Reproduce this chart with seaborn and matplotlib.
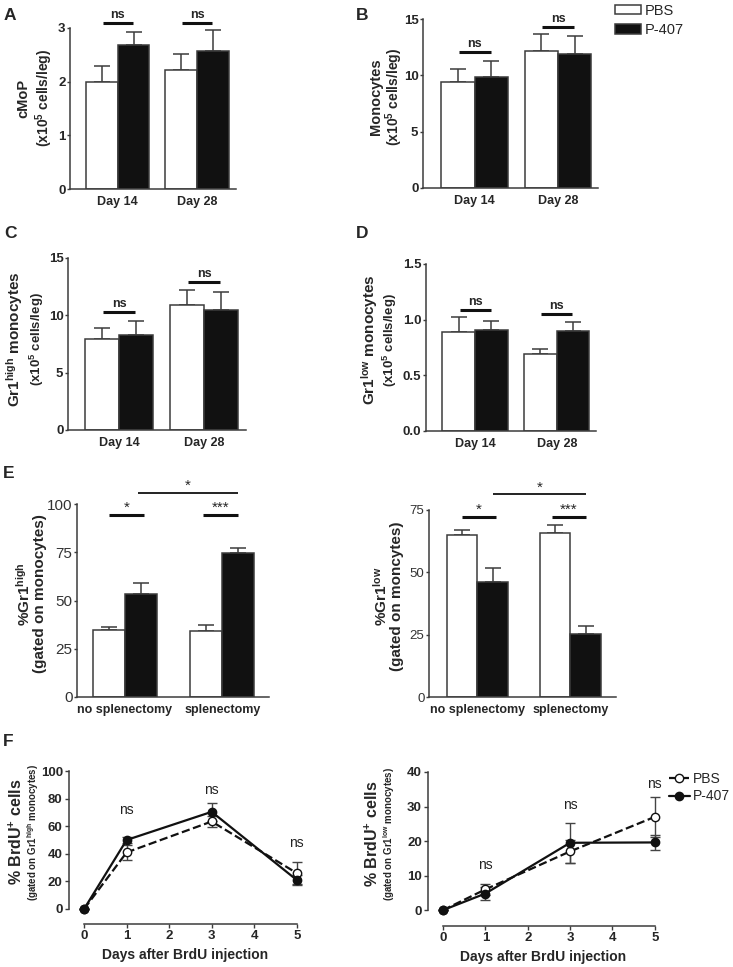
import numpy as np
import pandas as pd
import matplotlib
matplotlib.use("Agg")
import matplotlib.pyplot as plt
import seaborn as sns
from matplotlib.patches import Patch
from matplotlib.lines import Line2D

# ---- data ----
treatments = ["PBS", "P-407"]
days = ["Day 14", "Day 28"]
surgery = ["no splenectomy", "splenectomy"]

cmop_pbs, cmop_pbs_sem = [2.0, 2.22], [0.29, 0.29]
cmop_p407, cmop_p407_sem = [2.68, 2.58], [0.24, 0.38]

mono_pbs, mono_pbs_sem = [9.4, 12.2], [1.2, 1.45]
mono_p407, mono_p407_sem = [9.85, 11.85], [1.4, 1.65]

hi_pbs, hi_pbs_sem = [7.9, 10.9], [1.0, 1.35]
hi_p407, hi_p407_sem = [8.28, 10.45], [1.2, 1.55]

lo_pbs, lo_pbs_sem = [0.89, 0.69], [0.13, 0.045]
lo_p407, lo_p407_sem = [0.905, 0.895], [0.085, 0.08]

pct_hi_pbs, pct_hi_pbs_sem = [34.6, 34.0], [1.6, 3.3]
pct_hi_p407, pct_hi_p407_sem = [53.6, 74.4], [5.7, 2.9]

pct_lo_pbs, pct_lo_pbs_sem = [65.1, 65.6], [1.7, 3.4]
pct_lo_p407, pct_lo_p407_sem = [46.2, 25.4], [5.6, 3.1]

brdu_days = [0, 1, 3, 5]
brdu_hi_pbs, brdu_hi_pbs_sem = [0, 41, 63.4, 26], [0, 5.5, 4, 8]
brdu_hi_p407, brdu_hi_p407_sem = [0, 50, 70.4, 21], [0, 2.2, 6.7, 3.8]
brdu_lo_pbs, brdu_lo_pbs_sem = [0, 6.0, 17.0, 27.0], [0, 1.7, 3.3, 5.7]
brdu_lo_p407, brdu_lo_p407_sem = [0, 4.8, 19.5, 19.6], [0, 1.9, 5.8, 2.2]

# ---- style ----
sns.set_theme(style="ticks")
plt.rcParams["font.family"] = ["Liberation Sans", "DejaVu Sans"]
plt.rcParams["mathtext.fontset"] = "custom"
plt.rcParams["mathtext.rm"] = "Liberation Sans:bold"
plt.rcParams["mathtext.it"] = "Liberation Sans:bold"
plt.rcParams["mathtext.bf"] = "Liberation Sans:bold"
plt.rcParams["mathtext.default"] = "rm"

EDGE = "#3c3c3c"
W, H = 733, 967
fig = plt.figure(figsize=(W / 100, H / 100), dpi=100)


def add_ax(l, t, r, b):
    return fig.add_axes([l / W, 1 - b / H, (r - l) / W, (b - t) / H])


def ylab(x, y, text, size):
    fig.text(x / W, 1 - y / H, text, rotation=90, ha="center", va="center",
             fontsize=size, fontweight="bold")


def letter(x, y, s):
    fig.text(x / W, 1 - y / H, s, fontsize=12.5, fontweight="bold",
             ha="left", va="center")


def bar_panel(ax, cats, pbs, pbs_err, p407, p407_err, ylim, yticks, width,
              xlim, tick_size=9.5, tick_bold=True, tick_labels=None):
    df = pd.DataFrame({"group": cats * 2,
                       "treatment": ["PBS"] * 2 + ["P-407"] * 2,
                       "value": pbs + p407})
    sns.barplot(data=df, x="group", y="value", hue="treatment", order=cats,
                hue_order=treatments,
                palette={"PBS": "white", "P-407": "#111111"},
                edgecolor=EDGE, linewidth=1.1, width=width, errorbar=None,
                legend=False, ax=ax, zorder=2)
    for cont, errs in zip(ax.containers, [pbs_err, p407_err]):
        for bar, e in zip(cont, errs):
            xc = bar.get_x() + bar.get_width() / 2
            ax.errorbar(xc, bar.get_height(), yerr=[[0], [e]], fmt="none",
                        ecolor=EDGE, elinewidth=1.1, capsize=6, capthick=1.1,
                        zorder=1)
    sns.despine(ax=ax)
    ax.set_xlim(*xlim)
    ax.set_ylim(*ylim)
    ax.set_yticks(yticks)
    if tick_labels is not None:
        ax.set_yticklabels(tick_labels)
    ax.set_xlabel("")
    ax.set_ylabel("")
    for s in ("left", "bottom"):
        ax.spines[s].set_color(EDGE)
        ax.spines[s].set_linewidth(1.1)
    ax.tick_params(axis="x", length=0, pad=5, labelsize=9)
    ax.tick_params(axis="y", length=2.5, width=1, color=EDGE, pad=0.8,
                   labelsize=tick_size)
    for t in ax.get_xticklabels():
        t.set_fontweight("bold")
    for t in ax.get_yticklabels():
        t.set_fontweight("bold" if tick_bold else "normal")
        if not tick_bold:
            t.set_color("#333333")


def sig(ax, x0, x1, y, text, lw=2.2, size=9, bold=True, off=1.5):
    ax.plot([x0, x1], [y, y], color="#111111", lw=lw, clip_on=False,
            solid_capstyle="butt")
    ax.annotate(text, xy=((x0 + x1) / 2, y), xytext=(0, off),
                textcoords="offset points", ha="center", va="bottom",
                fontsize=size, fontweight="bold" if bold else "normal",
                annotation_clip=False)


# ---- A: cMoP ----
axA = add_ax(70, 28, 236, 189)
bar_panel(axA, days, cmop_pbs, cmop_pbs_sem, cmop_p407, cmop_p407_sem,
          (0, 3), [0, 1, 2, 3], 0.8, (-0.6, 1.49))
sig(axA, -0.19, 0.19, 3.09, "ns")
sig(axA, 0.81, 1.19, 3.09, "ns")
ylab(23, 98, "cMoP", 10.5)
ylab(44, 98, "(x10$^{5}$ cells/leg)", 10)
letter(4, 16, "A")

# ---- B: Monocytes ----
axB = add_ax(423, 19, 598, 188)
bar_panel(axB, days, mono_pbs, mono_pbs_sem, mono_p407, mono_p407_sem,
          (0, 15), [0, 5, 10, 15], 0.8, (-0.62, 1.48))
sig(axB, -0.19, 0.19, 12.07, "ns")
sig(axB, 0.81, 1.19, 14.3, "ns")
ylab(376, 97, "Monocytes", 10.5)
ylab(394, 97, "(x10$^{5}$ cells/leg)", 10)
letter(356, 16, "B")
fig.legend(handles=[Patch(facecolor="white", edgecolor=EDGE, lw=1.1, label="PBS"),
                    Patch(facecolor="#111111", edgecolor=EDGE, lw=1.1, label="P-407")],
           loc="upper left", bbox_to_anchor=(615 / W, 1 - 4 / H), frameon=False,
           fontsize=10.5, handlelength=1.75, handleheight=0.6, handletextpad=0.3,
           labelspacing=0.35, borderpad=0, borderaxespad=0)

# ---- C: Gr1 high ----
axC = add_ax(68, 258, 246, 430)
bar_panel(axC, days, hi_pbs, hi_pbs_sem, hi_p407, hi_p407_sem,
          (0, 15), [0, 5, 10, 15], 0.8, (-0.6, 1.49))
sig(axC, -0.19, 0.19, 10.25, "ns")
sig(axC, 0.81, 1.19, 12.93, "ns")
ylab(15, 339, "Gr1$^{high}$ monocytes", 11)
ylab(37, 339, "(x10$^{5}$ cells/leg)", 9.5)
letter(4, 233, "C")

# ---- D: Gr1 low ----
axD = add_ax(426, 264, 596, 431)
bar_panel(axD, days, lo_pbs, lo_pbs_sem, lo_p407, lo_p407_sem,
          (0, 1.5), [0, 0.5, 1.0, 1.5], 0.8, (-0.6, 1.48),
          tick_labels=["0.0", "0.5", "1.0", "1.5"])
sig(axD, -0.19, 0.19, 1.087, "ns")
sig(axD, 0.81, 1.19, 1.05, "ns")
ylab(370, 340, "Gr1$^{low}$ monocytes", 11)
ylab(390, 340, "(x10$^{5}$ cells/leg)", 9.5)
letter(356, 233, "D")

# ---- E: percentages ----
axE1 = add_ax(77, 504, 269, 697)
bar_panel(axE1, surgery, pct_hi_pbs, pct_hi_pbs_sem, pct_hi_p407, pct_hi_p407_sem,
          (0, 100), [0, 25, 50, 75, 100], 0.66, (-0.49, 1.48),
          tick_size=11, tick_bold=False)
sig(axE1, -0.165, 0.2, 94.3, "*", size=11, bold=False, off=0)
sig(axE1, 0.8, 1.165, 94.3, "***", size=11, bold=False, off=0)
sig(axE1, 0.135, 1.165, 105.7, "*", lw=1.3, size=11, bold=False, off=0)
ylab(24, 594, "%Gr1$^{high}$", 11)
ylab(40, 594, "(gated on monocytes)", 11)
letter(3, 474, "E")

axE2 = add_ax(429, 510, 616, 697)
bar_panel(axE2, surgery, pct_lo_pbs, pct_lo_pbs_sem, pct_lo_p407, pct_lo_p407_sem,
          (0, 75), [0, 25, 50, 75], 0.66, (-0.52, 1.49),
          tick_size=9.5, tick_bold=False)
sig(axE2, -0.17, 0.2, 72.2, "*", size=11, bold=False, off=0)
sig(axE2, 0.8, 1.165, 72.2, "***", size=11, bold=False, off=0)
sig(axE2, 0.17, 1.165, 81.3, "*", lw=1.3, size=11, bold=False, off=0)
ylab(381, 596, "%Gr1$^{low}$", 11)
ylab(397, 596, "(gated on moncytes)", 11)


# ---- F: BrdU kinetics ----
def line_panel(ax, pbs, pbs_err, p407, p407_err, ylim, yticks, ns_pos):
    sns.lineplot(x=brdu_days, y=pbs, ax=ax, color="#111111", linestyle="--",
                 lw=1.6, marker="o", markersize=6, markerfacecolor="white",
                 markeredgecolor="#111111", markeredgewidth=1.0, zorder=3,
                 clip_on=False)
    ax.errorbar(brdu_days, pbs, yerr=pbs_err, fmt="none", ecolor="#444444",
                elinewidth=1.0, capsize=3.5, capthick=1.0, zorder=2,
                clip_on=False)
    sns.lineplot(x=brdu_days, y=p407, ax=ax, color="#111111", linestyle="-",
                 lw=1.6, marker="o", markersize=6, markerfacecolor="#111111",
                 markeredgecolor="#111111", markeredgewidth=1.0, zorder=4,
                 clip_on=False)
    ax.errorbar(brdu_days, p407, yerr=p407_err, fmt="none", ecolor="#444444",
                elinewidth=1.0, capsize=3.5, capthick=1.0, zorder=2,
                clip_on=False)
    for x, y in ns_pos:
        ax.text(x, y, "ns", ha="center", va="center", fontsize=10,
                color="#222222")
    sns.despine(ax=ax)
    ax.set_xlim(-0.355, 5.1)
    ax.set_ylim(*ylim)
    ax.spines["left"].set_bounds(0, yticks[-1])
    ax.spines["bottom"].set_bounds(0, 5)
    for s in ("left", "bottom"):
        ax.spines[s].set_color(EDGE)
        ax.spines[s].set_linewidth(1.1)
    ax.set_xticks([0, 1, 2, 3, 4, 5])
    ax.set_yticks(yticks)
    ax.tick_params(length=3, width=1, color=EDGE, pad=1.5, labelsize=9.5)
    for t in ax.get_xticklabels() + ax.get_yticklabels():
        t.set_fontweight("bold")
    ax.set_ylabel("")
    ax.set_xlabel("Days after BrdU injection", fontsize=10, fontweight="bold",
                  labelpad=4)


axF1 = add_ax(69, 771, 301, 924)
line_panel(axF1, brdu_hi_pbs, brdu_hi_pbs_sem, brdu_hi_p407, brdu_hi_p407_sem,
           (-10.9, 100), [0, 20, 40, 60, 80, 100],
           [(1, 72), (3, 86), (5, 48)])
ylab(16, 832, "% BrdU$^{+}$ cells", 11.5)
ylab(33, 832, "(gated on Gr1$^{high}$ monocytes)", 7)
letter(3, 742, "F")

axF2 = add_ax(428, 772, 659, 926)
line_panel(axF2, brdu_lo_pbs, brdu_lo_pbs_sem, brdu_lo_p407, brdu_lo_p407_sem,
           (-4.6, 40), [0, 10, 20, 30, 40],
           [(1, 13), (3, 30.4), (5, 36.5)])
ylab(372, 834, "% BrdU$^{+}$ cells", 11.5)
ylab(389, 834, "(gated on Gr1$^{low}$ monocytes)", 7)
fig.legend(handles=[Line2D([], [], color="#111111", ls="--", lw=1.6, marker="o",
                           ms=6, mfc="white", mec="#111111", label="PBS"),
                    Line2D([], [], color="#111111", ls="-", lw=1.6, marker="o",
                           ms=6, mfc="#111111", mec="#111111", label="P-407")],
           loc="upper left", bbox_to_anchor=(669 / W, 1 - 772 / H), frameon=False,
           fontsize=10, handlelength=1.5, handletextpad=0.25,
           labelspacing=0.25, borderpad=0, borderaxespad=0)

fig.savefig("out.png", dpi=100)
